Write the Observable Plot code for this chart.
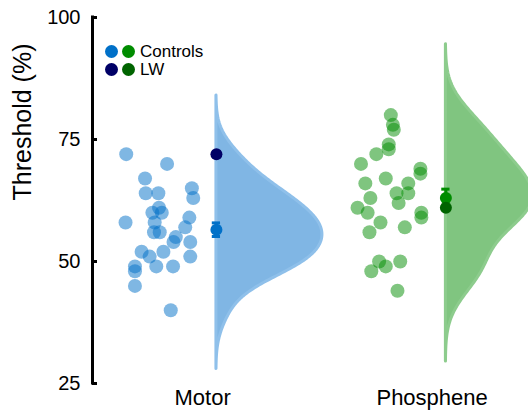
<!DOCTYPE html>
<html>
<head>
<meta charset="utf-8">
<script src="https://cdn.jsdelivr.net/npm/d3@7"></script>
<script src="https://cdn.jsdelivr.net/npm/@observablehq/plot@0.6"></script>
<style>
  body { margin: 0; background: #fff; font-family: "Liberation Sans", Arial, sans-serif; }
  #wrap { position: relative; width: 528px; height: 412px; }
  #legend { position: absolute; left: 105px; top: 43px; font-size: 17px; line-height: 17.5px; color: #000; }
  #legend .row { display: flex; align-items: center; height: 17.5px; }
  #legend .dot { width: 13px; height: 13px; border-radius: 50%; display: inline-block; margin-right: 4px; }
</style>
</head>
<body>
<div id="wrap">
  <div id="chart"></div>
  <div id="legend"></div>
</div>
<script>
// ---- data ----
const categories = ["Motor", "Phosphene"];
const yTicks = [25, 50, 75, 100];

const motorValues = [72, 70, 67, 64, 64, 65, 63, 61, 60, 60, 58, 58, 59, 56, 56, 57, 55, 54, 54, 52, 52, 51, 51, 49, 48, 49, 49, 45, 40];
const motorJitter = [-0.393, -0.215, -0.311, -0.308, -0.253, -0.107, -0.101, -0.250, -0.279, -0.238, -0.396, -0.269, -0.118, -0.272, -0.247, -0.136, -0.177, -0.187, -0.114, -0.326, -0.231, -0.291, -0.114, -0.355, -0.355, -0.262, -0.189, -0.355, -0.199];

const phospheneValues = [80, 78, 77, 74, 73, 72, 70, 69, 68, 66, 67, 66, 64, 64, 63, 62, 61, 60, 60, 59, 58, 57, 56, 50, 50, 49, 48, 44];
const phospheneJitter = [-0.240, -0.231, -0.227, -0.249, -0.249, -0.303, -0.370, -0.111, -0.111, -0.351, -0.262, -0.164, -0.215, -0.164, -0.329, -0.206, -0.385, -0.341, -0.107, -0.107, -0.285, -0.179, -0.333, -0.291, -0.199, -0.262, -0.325, -0.211];

const lwValues = [72, 61];

const legendGroups = ["Controls", "LW"];

// ---- styles ----
const pointColors = ["#0070c8", "#008c00"];
const violinFill = ["#80b6e4", "#80c580"];
const violinStroke = ["#8fc0ea", "#8dcc8d"];
const meanColors = ["#0070c8", "#008c00"];
const lwColors = ["#000066", "#006400"];
const baseOffset = 0.06;
const xDomain = [-0.48, 1.42];
const capHalf = 0.018;

// ---- derived ----
const groups = [
  {cat: 0, values: motorValues, jitter: motorJitter},
  {cat: 1, values: phospheneValues, jitter: phospheneJitter}
];

const points = [];
groups.forEach(g => g.values.forEach((v, i) => points.push({x: g.cat + baseOffset + g.jitter[i], y: v, c: g.cat})));

function kde(values) {
  const n = values.length;
  const med = d3.median(values);
  const mad = d3.median(values.map(v => Math.abs(v - med)));
  const sig = mad / 0.6745;
  const bw = sig * Math.pow(4 / (3 * n), 1 / 5);
  const lo = d3.min(values) - 3 * bw, hi = d3.max(values) + 3 * bw;
  const out = [];
  const N = 200;
  for (let j = 0; j <= N; j++) {
    const y = lo + (hi - lo) * j / N;
    let s = 0;
    for (const v of values) { const z = (y - v) / bw; s += Math.exp(-0.5 * z * z); }
    out.push({y, d: s / (n * bw * Math.sqrt(2 * Math.PI))});
  }
  return out;
}
const dens = groups.map(g => kde(g.values));
const k = 0.462 / d3.max(dens[0], p => p.d);
const violins = [];
dens.forEach((arr, c) => arr.forEach(p => violins.push({c, y: p.y, x1: c + baseOffset, x2: c + baseOffset + p.d * k})));

const stats = groups.map(g => {
  const m = d3.mean(g.values);
  const se = d3.deviation(g.values) / Math.sqrt(g.values.length);
  return {x: g.cat + baseOffset, c: g.cat, m, lo: m - se, hi: m + se};
});
const lw = lwValues.map((v, c) => ({x: c + baseOffset, y: v, c}));

const chart = Plot.plot({
  width: 528,
  height: 412,
  marginLeft: 92,
  marginRight: 0,
  marginTop: 17,
  marginBottom: 29,
  style: {fontFamily: "'Liberation Sans', Arial, sans-serif", color: "#000", background: "#fff"},
  x: {domain: xDomain, axis: null},
  y: {domain: [25, 100], axis: null},
  marks: [
    Plot.areaX(violins.filter(d => d.c === 0), {y: "y", x1: "x1", x2: "x2", fill: violinFill[0], stroke: violinStroke[0], strokeWidth: 3}),
    Plot.areaX(violins.filter(d => d.c === 1), {y: "y", x1: "x1", x2: "x2", fill: violinFill[1], stroke: violinStroke[1], strokeWidth: 3}),
    Plot.dot(points, {x: "x", y: "y", r: 7, fill: d => pointColors[d.c], fillOpacity: 0.5, stroke: "none"}),
    Plot.ruleX(stats, {x: "x", y1: "lo", y2: "hi", stroke: d => meanColors[d.c], strokeWidth: 3}),
    Plot.ruleY(stats, {y: "lo", x1: d => d.x - capHalf, x2: d => d.x + capHalf, stroke: d => meanColors[d.c], strokeWidth: 3}),
    Plot.ruleY(stats, {y: "hi", x1: d => d.x - capHalf, x2: d => d.x + capHalf, stroke: d => meanColors[d.c], strokeWidth: 3}),
    Plot.dot(stats, {x: "x", y: "m", r: 6, fill: d => meanColors[d.c]}),
    Plot.dot(lw, {x: "x", y: "y", r: 6, fill: d => lwColors[d.c]}),
    Plot.ruleX([xDomain[0]], {y1: 25, y2: 100, stroke: "#000", strokeWidth: 3, strokeLinecap: "square"}),
    Plot.axisY({ticks: yTicks, tickSize: -5, tickPadding: 17, strokeWidth: 3, fontSize: 20}),
    Plot.axisX({ticks: [0, 1], tickFormat: i => categories[i], tickSize: 0, tickPadding: 6, fontSize: 22}),
    Plot.text(["Threshold (%)"], {frameAnchor: "left", rotate: -90, dx: -70, fontSize: 25, fill: "#000"})
  ]
});
document.getElementById("chart").appendChild(chart);

// legend
const legend = document.getElementById("legend");
legendGroups.forEach((name, i) => {
  const row = document.createElement("div");
  row.className = "row";
  const cols = i === 0 ? [meanColors[0], meanColors[1]] : [lwColors[0], lwColors[1]];
  cols.forEach((c, j) => {
    const s = document.createElement("span");
    s.className = "dot";
    s.style.background = c;
    if (j === 1) s.style.marginRight = "5px";
    row.appendChild(s);
  });
  const t = document.createElement("span");
  t.textContent = name;
  row.appendChild(t);
  legend.appendChild(row);
});
</script>
</body>
</html>
